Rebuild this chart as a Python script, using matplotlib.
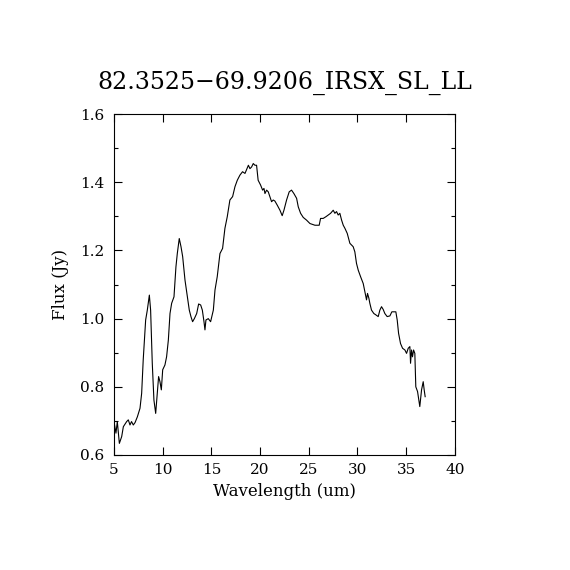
import numpy as np
import matplotlib
matplotlib.use("Agg")
from matplotlib import pyplot as plt
from matplotlib.ticker import MultipleLocator

# spectrum
wavelength = [5.0, 5.2, 5.34, 5.55, 5.79, 5.96, 6.3, 6.47, 6.64, 6.8, 6.98, 7.16, 7.4, 7.67,
              7.84, 8.0, 8.25, 8.42, 8.63, 8.76, 8.93, 9.1, 9.28, 9.45, 9.58, 9.72, 9.86, 10.0,
              10.23, 10.4, 10.58, 10.75, 10.92, 11.16, 11.36, 11.5, 11.7, 11.88, 12.05, 12.29,
              12.53, 12.73, 12.9, 13.07, 13.25, 13.49, 13.69, 13.9, 14.07, 14.24, 14.34, 14.44,
              14.68, 14.92, 15.2, 15.37, 15.6, 15.88, 16.15, 16.39, 16.63, 16.9, 17.18, 17.42,
              17.66, 17.93, 18.2, 18.45, 18.6, 18.8, 18.96, 19.13, 19.3, 19.47, 19.64, 19.8,
              20.05, 20.26, 20.4, 20.5, 20.67, 20.84, 21.0, 21.18, 21.35, 21.52, 21.76, 22.04,
              22.27, 22.45, 22.72, 22.99, 23.23, 23.47, 23.75, 23.92, 24.16, 24.43, 24.77,
              25.12, 25.63, 26.07, 26.21, 26.48, 26.76, 27.0, 27.24, 27.51, 27.68, 27.85, 28.02,
              28.19, 28.37, 28.54, 28.71, 28.95, 29.22, 29.39, 29.56, 29.73, 29.9, 30.08, 30.32,
              30.59, 30.76, 30.93, 31.03, 31.17, 31.27, 31.44, 31.68, 31.89, 32.13, 32.3, 32.47,
              32.64, 32.81, 33.05, 33.33, 33.53, 33.74, 33.94, 34.08, 34.22, 34.42, 34.63, 34.87,
              35.04, 35.21, 35.38, 35.45, 35.55, 35.65, 35.76, 35.89, 35.99, 36.17, 36.3, 36.4,
              36.58, 36.75, 36.85, 36.95]
flux = [0.698, 0.664, 0.698, 0.634, 0.654, 0.683, 0.698, 0.703, 0.688, 0.698, 0.688, 0.695,
        0.712, 0.737, 0.781, 0.879, 0.996, 1.025, 1.069, 1.025, 0.869, 0.761, 0.722, 0.781,
        0.83, 0.815, 0.791, 0.85, 0.864, 0.888, 0.937, 1.015, 1.045, 1.064, 1.152, 1.191,
        1.235, 1.211, 1.182, 1.113, 1.064, 1.025, 1.006, 0.991, 1.0, 1.015, 1.043, 1.04,
        1.025, 0.991, 0.967, 0.996, 1.0, 0.991, 1.025, 1.084, 1.123, 1.191, 1.206, 1.265,
        1.299, 1.348, 1.358, 1.387, 1.406, 1.421, 1.431, 1.426, 1.436, 1.45, 1.44, 1.445,
        1.455, 1.45, 1.45, 1.406, 1.392, 1.377, 1.382, 1.367, 1.377, 1.372, 1.358, 1.343,
        1.348, 1.345, 1.333, 1.318, 1.302, 1.318, 1.348, 1.372, 1.377, 1.367, 1.353, 1.328,
        1.309, 1.297, 1.289, 1.279, 1.274, 1.274, 1.294, 1.294, 1.299, 1.304, 1.309, 1.318,
        1.309, 1.314, 1.304, 1.309, 1.289, 1.274, 1.265, 1.25, 1.221, 1.216, 1.211, 1.196,
        1.162, 1.142, 1.123, 1.103, 1.079, 1.055, 1.074, 1.06, 1.045, 1.025, 1.015, 1.011,
        1.006, 1.025, 1.035, 1.027, 1.015, 1.006, 1.008, 1.02, 1.02, 1.02, 0.996, 0.957,
        0.927, 0.913, 0.908, 0.898, 0.913, 0.918, 0.869, 0.908, 0.888, 0.908, 0.898, 0.8,
        0.786, 0.761, 0.742, 0.791, 0.815, 0.791, 0.771]

title = "82.3525\u221269.9206_IRSX_SL_LL"

plt.rcParams['font.family'] = ['DejaVu Serif']

fig = plt.figure(figsize=(5.7, 5.7), dpi=100)
ax = fig.add_axes([0.2, 0.2018, 0.598, 0.598])
ax.plot(wavelength, flux, color='black', linewidth=0.8)

ax.set_xlim(5, 40)
ax.set_ylim(0.6, 1.6)
ax.xaxis.set_major_locator(MultipleLocator(5))
ax.yaxis.set_major_locator(MultipleLocator(0.2))
ax.yaxis.set_minor_locator(MultipleLocator(0.1))
ax.yaxis.set_major_formatter(matplotlib.ticker.FormatStrFormatter('%.1f'))
ax.tick_params(which='both', direction='in', top=True, right=True, labelsize=11, width=0.8)
ax.tick_params(which='major', length=6)
ax.tick_params(which='minor', length=3)
ax.tick_params(axis='x', pad=6)
ax.tick_params(axis='y', pad=7)
for s in ax.spines.values():
    s.set_linewidth(0.8)

ax.set_xlabel("Wavelength (um)", fontsize=12, labelpad=4)
ax.set_ylabel("Flux (Jy)", fontsize=12, labelpad=8)
ax.set_title(title, fontsize=17, pad=18)

fig.savefig("out.png", dpi=100)
